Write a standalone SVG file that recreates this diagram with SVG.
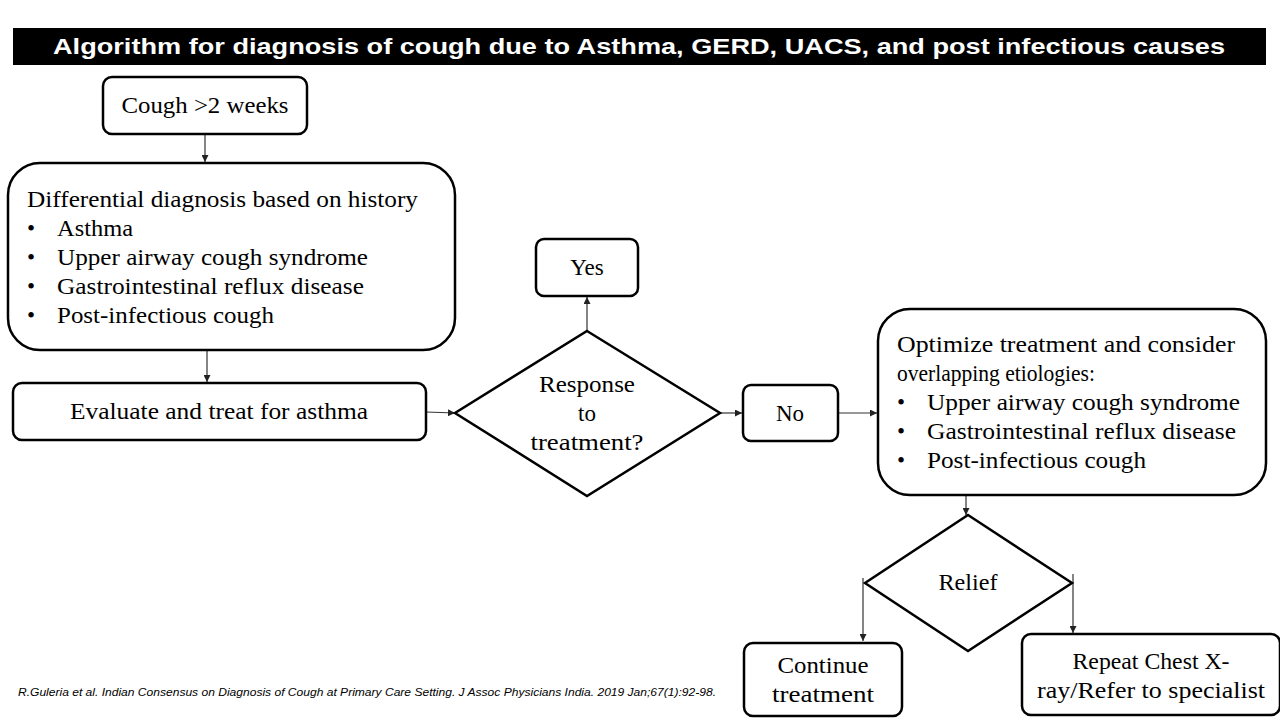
<svg xmlns="http://www.w3.org/2000/svg" width="1280" height="720" viewBox="0 0 1280 720">
<defs>
<marker id="ah" viewBox="0 0 10 10" refX="10" refY="5" markerWidth="7" markerHeight="7" markerUnits="userSpaceOnUse" orient="auto">
<path d="M0,0 L10,5 L0,10 z" fill="#222"/>
</marker>
</defs>
<style>
.box{fill:#fff;stroke:#000;stroke-width:2.5}
.t{font-family:"Liberation Serif","DejaVu Serif",serif;font-size:23px;fill:#000}
.c{text-anchor:middle}
.con{stroke:#333;stroke-width:1.2;fill:none;marker-end:url(#ah)}
</style>
<rect width="1280" height="720" fill="#fff"/>
<g id="title">
<rect x="13" y="28" width="1253" height="37" fill="#000"/>
<text x="639" y="54" text-anchor="middle" font-family="Liberation Sans,Arial,sans-serif" font-weight="bold" font-size="22" fill="#fff" textLength="1172" lengthAdjust="spacingAndGlyphs">Algorithm for diagnosis of cough due to Asthma, GERD, UACS, and post infectious causes</text>
</g>
<g id="connectors">
<line class="con" x1="205" y1="134" x2="205" y2="162"/>
<line class="con" x1="207" y1="350" x2="207" y2="382"/>
<line class="con" x1="426" y1="412" x2="455" y2="413"/>
<line class="con" x1="587" y1="331" x2="587" y2="297"/>
<line class="con" x1="721" y1="413" x2="742" y2="413"/>
<line class="con" x1="839" y1="413" x2="877" y2="413"/>
<line class="con" x1="966" y1="496" x2="966" y2="515"/>
<line class="con" x1="863" y1="578" x2="863" y2="641"/>
<line class="con" x1="1073" y1="574" x2="1073" y2="633"/>
</g>
<g id="cough">
<rect class="box" x="103" y="77" width="204" height="57" rx="9"/>
<text class="t c" x="205" y="113" textLength="167" lengthAdjust="spacingAndGlyphs">Cough &gt;2 weeks</text>
</g>
<g id="differential">
<rect class="box" x="8" y="163" width="447" height="187" rx="32"/>
<text class="t" x="27" y="207" textLength="391" lengthAdjust="spacingAndGlyphs">Differential diagnosis based on history</text>
<text class="t" x="27" y="236">•</text><text class="t" x="57" y="236" textLength="76" lengthAdjust="spacingAndGlyphs">Asthma</text>
<text class="t" x="27" y="265">•</text><text class="t" x="57" y="265" textLength="311" lengthAdjust="spacingAndGlyphs">Upper airway cough syndrome</text>
<text class="t" x="27" y="294">•</text><text class="t" x="57" y="294" textLength="307" lengthAdjust="spacingAndGlyphs">Gastrointestinal reflux disease</text>
<text class="t" x="27" y="323">•</text><text class="t" x="57" y="323" textLength="217" lengthAdjust="spacingAndGlyphs">Post-infectious cough</text>
</g>
<g id="evaluate">
<rect class="box" x="13" y="383" width="413" height="57" rx="9"/>
<text class="t c" x="219" y="419" textLength="298" lengthAdjust="spacingAndGlyphs">Evaluate and treat for asthma</text>
</g>
<g id="response">
<polygon class="box" points="587,331 720,413 587,496 455,413"/>
<text class="t c" x="587" y="392" textLength="96" lengthAdjust="spacingAndGlyphs">Response</text>
<text class="t c" x="587" y="421">to</text>
<text class="t c" x="587" y="450" textLength="113" lengthAdjust="spacingAndGlyphs">treatment?</text>
</g>
<g id="yes">
<rect class="box" x="536" y="239" width="102" height="57" rx="8"/>
<text class="t c" x="587" y="275">Yes</text>
</g>
<g id="no">
<rect class="box" x="743" y="385" width="95" height="56" rx="8"/>
<text class="t c" x="790" y="421">No</text>
</g>
<g id="optimize">
<rect class="box" x="878" y="309" width="388" height="186" rx="32"/>
<text class="t" x="897" y="352" textLength="338" lengthAdjust="spacingAndGlyphs">Optimize treatment and consider</text>
<text class="t" x="897" y="381" textLength="198" lengthAdjust="spacingAndGlyphs">overlapping etiologies:</text>
<text class="t" x="897" y="410">•</text><text class="t" x="927" y="410" textLength="313" lengthAdjust="spacingAndGlyphs">Upper airway cough syndrome</text>
<text class="t" x="897" y="439">•</text><text class="t" x="927" y="439" textLength="309" lengthAdjust="spacingAndGlyphs">Gastrointestinal reflux disease</text>
<text class="t" x="897" y="468">•</text><text class="t" x="927" y="468" textLength="219" lengthAdjust="spacingAndGlyphs">Post-infectious cough</text>
</g>
<g id="relief">
<polygon class="box" points="968,515 1072,583 968,651 865,583"/>
<text class="t c" x="968" y="590" textLength="59" lengthAdjust="spacingAndGlyphs">Relief</text>
</g>
<g id="continue">
<rect class="box" x="744" y="643" width="158" height="73" rx="9"/>
<text class="t c" x="823" y="673" textLength="91" lengthAdjust="spacingAndGlyphs">Continue</text>
<text class="t c" x="823" y="702" textLength="102" lengthAdjust="spacingAndGlyphs">treatment</text>
</g>
<g id="repeat">
<rect class="box" x="1022" y="634" width="258" height="81" rx="9"/>
<text class="t c" x="1151" y="669" textLength="157" lengthAdjust="spacingAndGlyphs">Repeat Chest X-</text>
<text class="t c" x="1151" y="698" textLength="228" lengthAdjust="spacingAndGlyphs">ray/Refer to specialist</text>
</g>
<text x="18" y="696" font-family="Liberation Sans,Arial,sans-serif" font-style="italic" font-size="10.5" fill="#000" textLength="698" lengthAdjust="spacingAndGlyphs">R.Guleria et al. Indian Consensus on Diagnosis of Cough at Primary Care Setting. J Assoc Physicians India. 2019 Jan;67(1):92-98.</text>
</svg>
